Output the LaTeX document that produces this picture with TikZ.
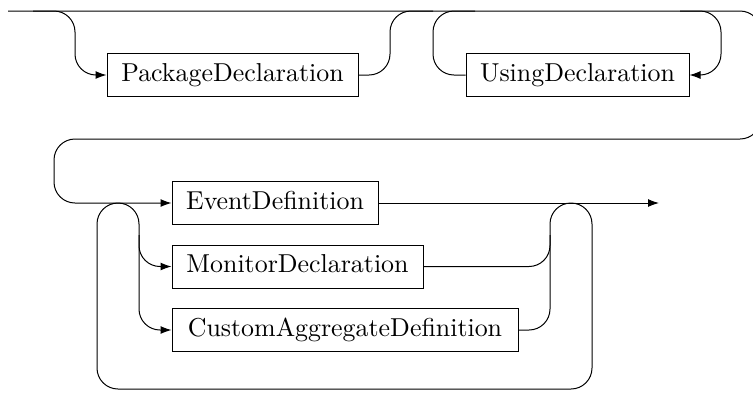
\documentclass[tikz,border=0pt]{standalone}
\usetikzlibrary{arrows.meta}
\newcommand{\bigtxt}[1]{\scalebox{2.59}{#1}}
\begin{document}
\begin{tikzpicture}[x=1pt,y=-1pt,
  line width=1pt,
  rr/.style={rounded corners=21pt},
  arr/.style={-{Latex[length=11pt,width=8pt]}},
  nt/.style={draw, font=\fontsize{10}{12}\selectfont, minimum height=43pt,
    text height=18pt, text depth=5.4pt, inner xsep=0pt, inner ysep=0pt}]
\useasboundingbox (0,0) rectangle (753,392);
\clip (0,0) rectangle (753,392);
% nodes
\node[nt, minimum width=251pt] (pkg) at (232.5,75) {\bigtxt{PackageDeclaration}};
\node[nt, minimum width=223pt] (use) at (577.5,75) {\bigtxt{UsingDeclaration}};
\node[nt, minimum width=206pt] (ev) at (275,203) {\bigtxt{EventDefinition}};
\node[nt, minimum width=251pt] (mon) at (297.5,266.5) {\bigtxt{MonitorDeclaration}};
\node[nt, minimum width=346pt] (cu) at (345,330) {\bigtxt{CustomAggregateDefinition}};
\coordinate (s) at (8,11);
\coordinate (e) at (659,203);
% main line with return
\draw[rr, arr] (s) -- (761,11) -- (761,139) -- (54,139) -- (54,203) -- (ev.west);
% optional package
\draw[rr, arr] (33,11) -- (75,11) -- (75,75) -- (pkg.west);
\draw[rr] (pkg.east) -- (390,75) -- (390,11) -- (433,11);
% using loop
\draw[rr] (use.west) -- (433,75) -- (433,11) -- (475,11);
\draw[rr, arr] (680,11) -- (721,11) -- (721,75) -- (use.east);
% exit
\draw[arr] (ev.east) -- (e);
% repetition loop
\draw[rr, arr] (mon.east) -- (550,266.5) -- (550,203) -- (592,203) -- (592,389)
  -- (97,389) -- (97,203) -- (139,203) -- (139,266.5) -- (mon.west);
\draw[rr] (cu.east) -- (550,330) -- (550,235);
\draw[rr, arr] (139,235) -- (139,330) -- (cu.west);
\end{tikzpicture}
\end{document}
